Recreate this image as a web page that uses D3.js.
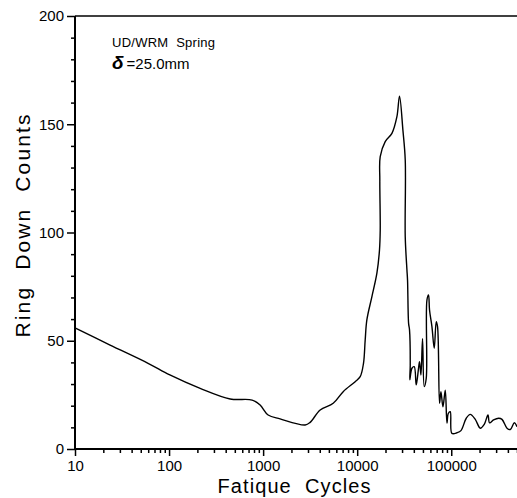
<!DOCTYPE html>
<html>
<head>
<meta charset="utf-8">
<script src="https://cdn.jsdelivr.net/npm/d3@7"></script>
<style>
  body { margin: 0; background: #fff; }
  svg { display: block; font-family: "Liberation Sans", Arial, sans-serif; }
  text { white-space: pre; }
</style>
</head>
<body>
<svg width="517" height="498"></svg>
<script>
// 데이터
const cycles = [
  10, 23.6, 59.8, 102, 214, 446, 764, 929, 1130, 1515, 2800, 3160, 4040, 5560, 7100, 9520,
  10760, 11670, 12160, 12670, 14320, 16200, 17260, 17570, 17400, 17570, 19860, 23400, 26440,
  28180, 30620, 32420, 32420, 33800, 34300, 35200, 36000, 36640, 36300, 38190, 40410, 42430,
  44890, 46000, 47610, 49510, 51610, 54200, 55140, 57340, 58760, 62320, 65930, 69240, 71490,
  75090, 77690, 81600, 86360, 90030, 93000, 97590, 101700, 115000, 126800, 144400, 159300,
  180000, 203500, 224400, 245700, 255500, 281800, 318600, 346300, 391500, 424400, 468000, 500000
];
const counts = [
  55.9, 48, 39.6, 34.2, 28, 23.1, 22.6, 20.3, 15.7, 13.9, 11.1, 12.3, 18, 21.1, 26.5, 31.1,
  33.4, 39.6, 50.3, 59.6, 70.3, 81.2, 91.9, 101, 124, 135, 142, 145.8, 153.5,
  163, 147.3, 133.5, 98, 82.7, 78, 58, 55, 38.8, 32, 37.3, 38, 29.6,
  37.3, 40.3, 34.2, 51, 28.8, 32.6, 68.8, 71.1, 64.2, 56.5, 46.5, 58.8, 56.5,
  21.1, 26.5, 19.5, 27.2, 12, 16.4, 17.2, 7.2, 7.5, 8.5, 14.2, 16,
  13.7, 9.6, 11.4, 15.7, 12.1, 13.4, 14.2, 13.7, 9.6, 9, 12.1, 10.3
];
const xMajorTicks = [10, 100, 1000, 10000, 100000];
const yMajorTicks = [0, 50, 100, 150, 200];

const svg = d3.select("svg");
const mLeft = 75, mRight = 517, mTop = 16, mBottom = 449;

const x = d3.scaleLog().domain([10, 500000]).range([mLeft, mRight]);
const y = d3.scaleLinear().domain([0, 200]).range([mBottom, mTop]);

// 보조 눈금
const xMinor = [];
xMajorTicks.forEach(d => { for (let k = 2; k <= 9; k++) if (d * k <= 500000) xMinor.push(d * k); });
const yMinor = d3.range(0, 201, 10).filter(v => v % 50 !== 0);

// x축
svg.append("g")
  .attr("transform", `translate(0,${mBottom})`)
  .call(d3.axisBottom(x).tickValues(xMinor).tickSize(4).tickFormat(""))
  .call(g => g.select(".domain").remove());
svg.append("g")
  .attr("transform", `translate(0,${mBottom})`)
  .call(d3.axisBottom(x).tickValues(xMajorTicks).tickSize(7).tickPadding(4).tickFormat(d3.format("d")))
  .call(g => g.select(".domain").attr("stroke-width", 2).attr("d", `M${mLeft},0H${mRight}`));

// y축
svg.append("g")
  .attr("transform", `translate(${mLeft},0)`)
  .call(d3.axisLeft(y).tickValues(yMinor).tickSize(4).tickFormat(""))
  .call(g => g.select(".domain").remove());
svg.append("g")
  .attr("transform", `translate(${mLeft},0)`)
  .call(d3.axisLeft(y).tickValues(yMajorTicks).tickSize(8).tickPadding(3))
  .call(g => g.select(".domain").attr("stroke-width", 2).attr("d", `M0,${mBottom}V${mTop}`));

svg.selectAll(".tick line").attr("stroke-width", 1.5);
svg.selectAll(".tick text").style("font-size", "15px").attr("fill", "#000");

// 위쪽 테두리
svg.append("line")
  .attr("x1", mLeft).attr("x2", mRight)
  .attr("y1", mTop).attr("y2", mTop)
  .attr("stroke", "#000").attr("stroke-width", 1.5);

// 곡선
const line = d3.line()
  .x((d, i) => x(cycles[i]))
  .y(d => y(d))
  .curve(d3.curveCatmullRom.alpha(0.5));
svg.append("path")
  .datum(counts)
  .attr("d", line)
  .attr("fill", "none")
  .attr("stroke", "#000")
  .attr("stroke-width", 1.4)
  .attr("stroke-linejoin", "round");

// 축 제목
svg.append("text")
  .attr("x", 294).attr("y", 493)
  .attr("text-anchor", "middle")
  .style("font-size", "20px")
  .attr("textLength", 153).attr("lengthAdjust", "spacing")
  .text("Fatique  Cycles");
svg.append("text")
  .attr("transform", "translate(30,226) rotate(-90)")
  .attr("text-anchor", "middle")
  .style("font-size", "21px")
  .attr("textLength", 223).attr("lengthAdjust", "spacing")
  .text("Ring  Down  Counts");

// 주석
svg.append("text")
  .attr("x", 112).attr("y", 47)
  .style("font-size", "13px")
  .attr("textLength", 103).attr("lengthAdjust", "spacing")
  .text("UD/WRM  Spring");
const t = svg.append("text").attr("x", 112).attr("y", 69).style("font-size", "15px");
t.append("tspan").style("font-weight", "bold").style("font-style", "italic").style("font-size", "19px").text("δ");
t.append("tspan").attr("dx", 3).text("=25.0mm");
</script>
</body>
</html>
